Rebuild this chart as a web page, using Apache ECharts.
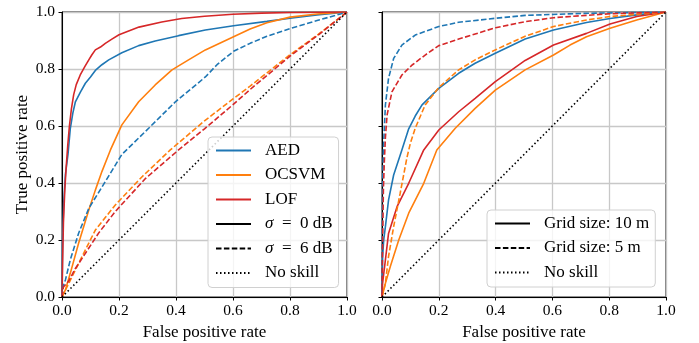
<!DOCTYPE html>
<html>
<head>
<meta charset="utf-8">
<script src="https://cdn.jsdelivr.net/npm/echarts@6/dist/echarts.min.js"></script>
<style>html,body{margin:0;padding:0;background:#fff;}#c{width:699px;height:343px;}</style>
</head>
<body>
<div id="c"></div>
<script>
// ---- Data (FPR, TPR) ----
const tickValues = [0, 0.2, 0.4, 0.6, 0.8, 1.0];

// Left panel: noise sigma
const aedSigma0 = [[0,0],[0.002,0.2],[0.006,0.33],[0.012,0.43],[0.021,0.5],[0.029,0.59],[0.038,0.645],[0.047,0.685],[0.065,0.72],[0.082,0.75],[0.1,0.772],[0.117,0.795],[0.14,0.815],[0.164,0.832],[0.21,0.857],[0.269,0.882],[0.327,0.898],[0.409,0.917],[0.503,0.937],[0.602,0.952],[0.719,0.967],[0.8,0.978],[0.895,0.99],[1,1]];
const ocsvmSigma0 = [[0,0],[0.012,0.025],[0.029,0.083],[0.058,0.188],[0.094,0.305],[0.117,0.375],[0.14,0.44],[0.17,0.516],[0.21,0.604],[0.269,0.685],[0.327,0.744],[0.386,0.797],[0.444,0.832],[0.503,0.867],[0.602,0.913],[0.66,0.94],[0.719,0.962],[0.8,0.982],[0.895,0.993],[1,1]];
const lofSigma0 = [[0,0],[0.002,0.12],[0.005,0.26],[0.01,0.38],[0.015,0.46],[0.02,0.53],[0.026,0.6],[0.033,0.66],[0.041,0.71],[0.05,0.745],[0.064,0.779],[0.08,0.808],[0.094,0.832],[0.105,0.85],[0.117,0.867],[0.135,0.877],[0.152,0.89],[0.175,0.905],[0.2,0.92],[0.27,0.947],[0.35,0.965],[0.42,0.977],[0.5,0.985],[0.6,0.992],[0.7,0.996],[0.8,0.998],[1,1]];
const aedSigma6 = [[0,0],[0.005,0.04],[0.012,0.06],[0.029,0.13],[0.058,0.223],[0.094,0.311],[0.152,0.405],[0.21,0.5],[0.304,0.592],[0.398,0.685],[0.503,0.772],[0.544,0.815],[0.602,0.862],[0.66,0.89],[0.719,0.915],[0.8,0.942],[0.895,0.97],[0.977,0.993],[1,1]];
const ocsvmSigma6 = [[0,0],[0.018,0.036],[0.047,0.095],[0.082,0.165],[0.117,0.235],[0.187,0.323],[0.281,0.422],[0.38,0.516],[0.5,0.618],[0.6,0.695],[0.66,0.74],[0.8,0.85],[0.9,0.922],[1,1]];
const lofSigma6 = [[0,0],[0.005,0.035],[0.023,0.055],[0.047,0.1],[0.082,0.153],[0.129,0.225],[0.187,0.3],[0.292,0.415],[0.409,0.516],[0.5,0.59],[0.6,0.675],[0.66,0.728],[0.8,0.845],[0.9,0.92],[1,1]];

// Right panel: grid size
const aedGrid10 = [[0,0],[0.002,0.14],[0.006,0.2],[0.012,0.247],[0.023,0.34],[0.041,0.428],[0.07,0.516],[0.094,0.59],[0.117,0.635],[0.141,0.674],[0.2,0.732],[0.27,0.785],[0.328,0.82],[0.399,0.855],[0.504,0.905],[0.604,0.937],[0.72,0.963],[0.803,0.977],[0.897,0.99],[1,1]];
const ocsvmGrid10 = [[0,0],[0.012,0.048],[0.029,0.106],[0.059,0.2],[0.094,0.294],[0.147,0.399],[0.193,0.516],[0.258,0.592],[0.328,0.662],[0.399,0.726],[0.504,0.797],[0.604,0.849],[0.662,0.884],[0.72,0.913],[0.803,0.943],[0.897,0.972],[1,1]];
const lofGrid10 = [[0,0],[0.002,0.048],[0.012,0.13],[0.023,0.223],[0.053,0.317],[0.094,0.399],[0.147,0.516],[0.2,0.586],[0.27,0.65],[0.328,0.697],[0.399,0.756],[0.504,0.83],[0.604,0.884],[0.72,0.925],[0.803,0.958],[0.897,0.984],[1,1]];
const aedGrid5 = [[0,0],[0.001,0.2],[0.002,0.4],[0.005,0.52],[0.012,0.674],[0.023,0.767],[0.041,0.837],[0.07,0.884],[0.117,0.919],[0.2,0.949],[0.27,0.964],[0.4,0.978],[0.504,0.988],[0.7,0.995],[1,1]];
const ocsvmGrid5 = [[0,0],[0.012,0.048],[0.023,0.142],[0.041,0.247],[0.064,0.364],[0.088,0.49],[0.1,0.54],[0.117,0.592],[0.152,0.674],[0.2,0.735],[0.27,0.797],[0.328,0.832],[0.399,0.867],[0.504,0.915],[0.604,0.949],[0.72,0.972],[0.803,0.984],[1,1]];
const lofGrid5 = [[0,0],[0.001,0.1],[0.003,0.25],[0.005,0.38],[0.008,0.47],[0.012,0.56],[0.018,0.639],[0.035,0.72],[0.07,0.779],[0.106,0.814],[0.152,0.849],[0.2,0.882],[0.27,0.905],[0.4,0.945],[0.504,0.966],[0.604,0.98],[0.803,0.994],[1,1]];

const noSkill = [[0,0],[1,1]];

const leftLegend = ['AED', 'OCSVM', 'LOF', 'σ = 0 dB', 'σ = 6 dB', 'No skill'];
const rightLegend = ['Grid size: 10 m', 'Grid size: 5 m', 'No skill'];

// ---- Styles ----
const FONT = 'Liberation Serif';
const BLUE = '#1f77b4', ORANGE = '#ff7f0e', RED = '#d62728', BLACK = '#000';
const DASH = [5.5, 2.4], DOT = [1.5, 2.5];
const LW = 1.6;

function line(name, data, color, type, idx) {
  return {
    name: name, type: 'line', data: data, xAxisIndex: idx, yAxisIndex: idx,
    showSymbol: false, symbol: 'none', smooth: false, silent: true,
    lineStyle: { color: color, width: LW, type: type },
    itemStyle: { color: color },
    emphasis: { disabled: true }
  };
}

function xAxis(idx) {
  return {
    type: 'value', gridIndex: idx, min: 0, max: 1, interval: 0.2,
    name: 'False positive rate', nameLocation: 'middle', nameGap: 25,
    nameTextStyle: { fontFamily: FONT, fontSize: 17, color: '#000' },
    axisLine: { show: true, onZero: false, lineStyle: { color: '#000', width: 1 } },
    axisTick: { show: true, inside: false, length: 3.5, lineStyle: { color: '#000', width: 1 } },
    axisLabel: { fontFamily: FONT, fontSize: 15.5, color: '#000', margin: 6, formatter: v => v.toFixed(1) },
    splitLine: { show: true, lineStyle: { color: '#c8c8c8', width: 1.3 } }
  };
}
function yAxis(idx, labels) {
  return {
    type: 'value', gridIndex: idx, min: 0, max: 1, interval: 0.2,
    name: labels ? 'True positive rate' : '', nameLocation: 'middle', nameGap: 31, nameRotate: 90,
    nameTextStyle: { fontFamily: FONT, fontSize: 17, color: '#000' },
    axisLine: { show: true, onZero: false, lineStyle: { color: '#000', width: 1 } },
    axisTick: { show: true, inside: false, length: 3.5, lineStyle: { color: '#000', width: 1 } },
    axisLabel: { show: labels, fontFamily: FONT, fontSize: 15.5, color: '#000', margin: 7, formatter: v => v.toFixed(1) },
    splitLine: { show: true, lineStyle: { color: '#c8c8c8', width: 1.3 } }
  };
}

function legend(data, left, top) {
  return {
    data: data, orient: 'vertical', left: left, top: top,
    itemWidth: 35, itemHeight: 14, itemGap: 7.5,
    padding: [5, 6, 6, 7],
    backgroundColor: 'rgba(255,255,255,0.8)', borderColor: '#d0d0d0', borderWidth: 1, borderRadius: 4,
    selectedMode: false,
    itemStyle: { opacity: 0 },
    formatter: n => n.replace(' = ', '\u2002=\u2002').replace('σ', '{i|σ}'),
    textStyle: {
      fontFamily: FONT, fontSize: 17, color: '#000', padding: [0, 0, 0, 9],
      rich: { i: { fontFamily: FONT, fontSize: 17, fontStyle: 'italic', color: '#000' } }
    }
  };
}

const gridBase = { show: true, borderColor: '#000', borderWidth: 1, backgroundColor: '#fff', containLabel: false, outerBoundsMode: 'none' };

const option = {
  animation: false,
  backgroundColor: '#fff',
  grid: [
    Object.assign({ left: 62, top: 12, width: 285, height: 285 }, gridBase),
    Object.assign({ left: 382, top: 12, width: 284, height: 285 }, gridBase)
  ],
  xAxis: [xAxis(0), xAxis(1)],
  yAxis: [yAxis(0, true), yAxis(1, false)],
  legend: [legend(leftLegend, 208, 137), legend(rightLegend, 487, 210)],
  series: [
    line('AED', aedSigma0, BLUE, 'solid', 0),
    line('OCSVM', ocsvmSigma0, ORANGE, 'solid', 0),
    line('LOF', lofSigma0, RED, 'solid', 0),
    line('AED6', aedSigma6, BLUE, DASH, 0),
    line('OCSVM6', ocsvmSigma6, ORANGE, DASH, 0),
    line('LOF6', lofSigma6, RED, DASH, 0),
    line('σ = 0 dB', [], BLACK, 'solid', 0),
    line('σ = 6 dB', [], BLACK, DASH, 0),
    line('No skill', noSkill, BLACK, DOT, 0),

    line('AED10', aedGrid10, BLUE, 'solid', 1),
    line('OCSVM10', ocsvmGrid10, ORANGE, 'solid', 1),
    line('LOF10', lofGrid10, RED, 'solid', 1),
    line('AED5', aedGrid5, BLUE, DASH, 1),
    line('OCSVM5', ocsvmGrid5, ORANGE, DASH, 1),
    line('LOF5', lofGrid5, RED, DASH, 1),
    line('Grid size: 10 m', [], BLACK, 'solid', 1),
    line('Grid size: 5 m', [], BLACK, DASH, 1),
    line('No skill ', noSkill, BLACK, DOT, 1)
  ]
};

const chart = echarts.init(document.getElementById('c'), null, { renderer: 'canvas' });
chart.setOption(option);
</script>
</body>
</html>
